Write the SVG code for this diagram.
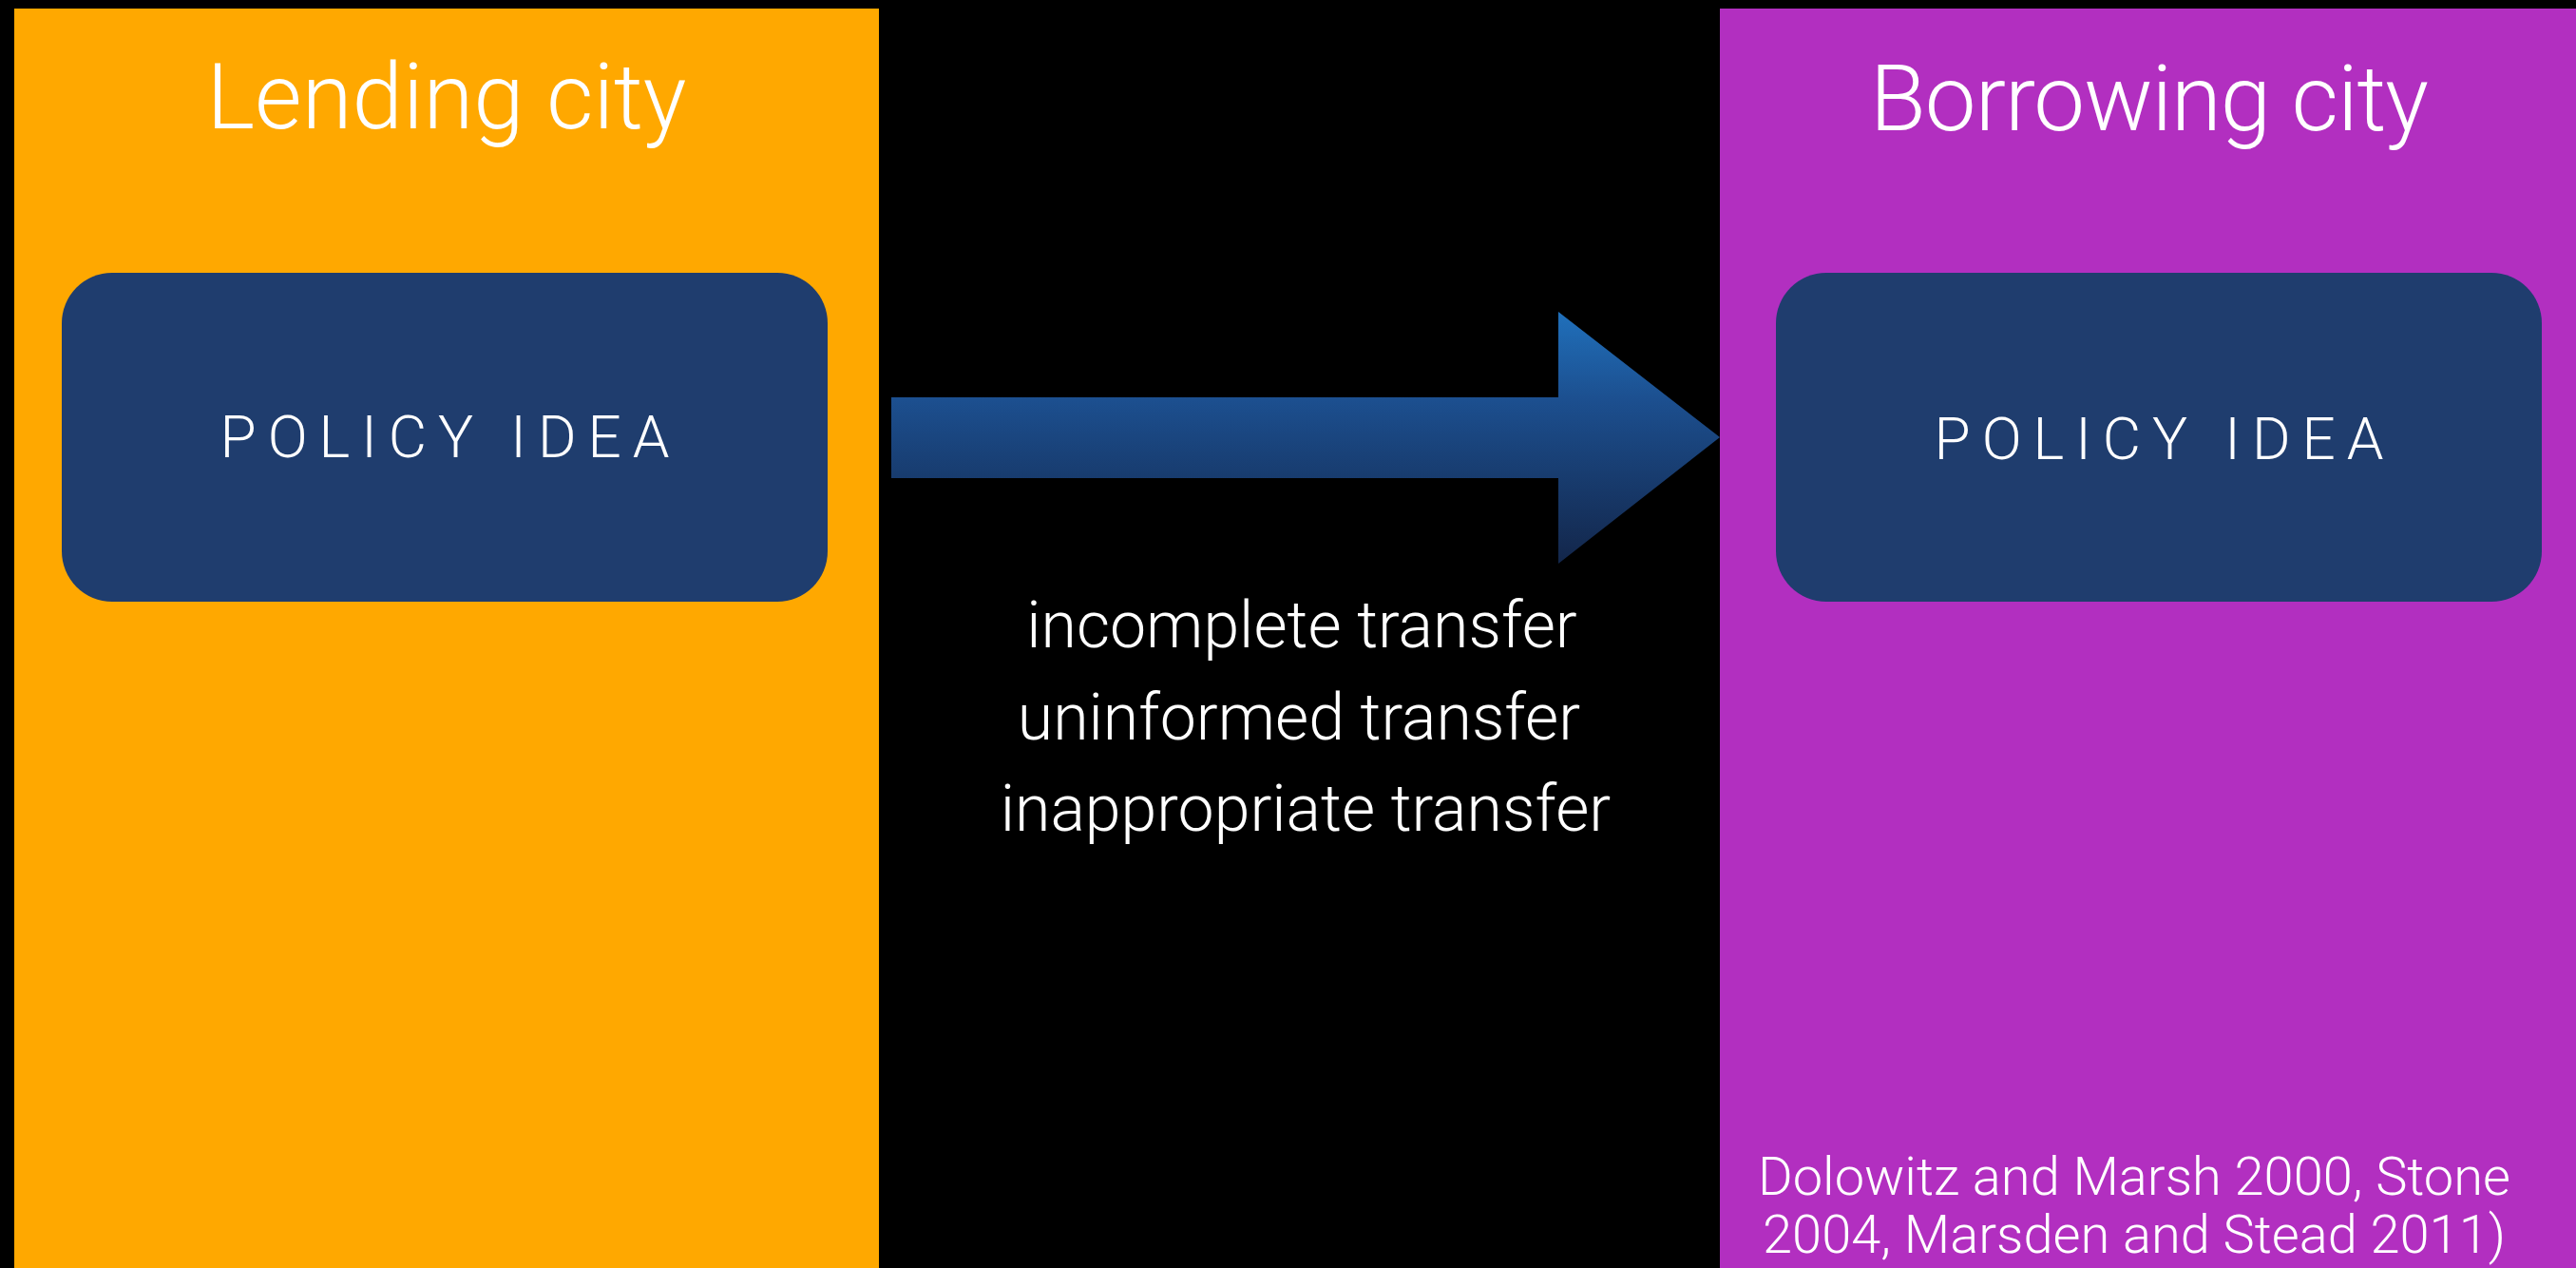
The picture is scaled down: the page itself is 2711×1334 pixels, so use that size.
<svg xmlns="http://www.w3.org/2000/svg" width="2711" height="1334" viewBox="0 0 2711 1334">
  <defs>
    <linearGradient id="arrowGrad" x1="0" y1="0" x2="0" y2="1">
      <stop offset="0" stop-color="#2070bb"/>
      <stop offset="0.35" stop-color="#1c4f8f"/>
      <stop offset="1" stop-color="#13264a"/>
    </linearGradient>
  </defs>
  <style>
    .title { font-family: Roboto, "Liberation Sans", sans-serif; font-weight: 300; font-size: 96px; fill: #ffffff; text-anchor: middle; }
    .node { fill: #1f3d6e; }
    .nodetext { font-family: Roboto, "Liberation Sans", sans-serif; font-weight: 300; font-size: 62px; letter-spacing: 12px; fill: #ffffff; text-anchor: middle; }
    .label { font-family: Roboto, "Liberation Sans", sans-serif; font-weight: 300; font-size: 68px; fill: #ffffff; text-anchor: middle; }
    .ref { font-family: Roboto, "Liberation Sans", sans-serif; font-weight: 300; font-size: 56px; fill: #ffffff; text-anchor: middle; }
  </style>
  <rect x="0" y="0" width="2711" height="1334" fill="#000000"/>
  <g id="lending-city">
    <rect x="15" y="9" width="910" height="1325" fill="#ffa800"/>
    <text class="title" x="470" y="135">Lending city</text>
  </g>
  <g id="borrowing-city">
    <rect x="1810" y="9" width="901" height="1325" fill="#b22fc0"/>
    <text class="title" x="2262" y="137" textLength="588">Borrowing city</text>
    <text class="ref" x="2246" y="1257">Dolowitz and Marsh 2000, Stone</text>
    <text class="ref" x="2246" y="1318">2004, Marsden and Stead 2011)</text>
  </g>
  <g id="policy-idea-lending">
    <rect class="node" x="65" y="287" width="806" height="346" rx="53" ry="53"/>
    <text class="nodetext" x="474" y="481">POLICY IDEA</text>
  </g>
  <g id="policy-idea-borrowing">
    <rect class="node" x="1869" y="287" width="806" height="346" rx="53" ry="53"/>
    <text class="nodetext" x="2278" y="483">POLICY IDEA</text>
  </g>
  <g id="connectors">
    <polygon points="938,418 1640,418 1640,328 1810,460 1640,593 1640,503 938,503" fill="url(#arrowGrad)"/>
  </g>
  <g id="transfer-labels">
    <text class="label" x="1370" y="681">incomplete transfer</text>
    <text class="label" x="1367" y="778">uninformed transfer</text>
    <text class="label" x="1374" y="874">inappropriate transfer</text>
  </g>
</svg>
